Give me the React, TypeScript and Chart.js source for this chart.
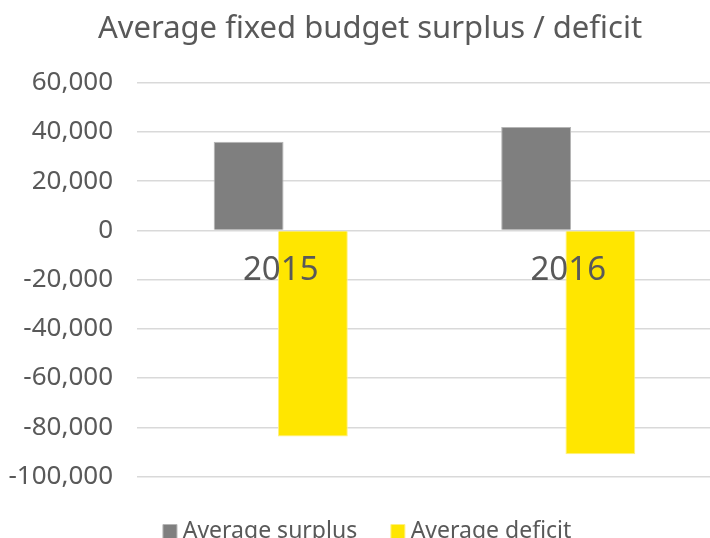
import React, { useEffect, useRef } from "react";
import { Chart, registerables } from "chart.js";

Chart.register(...registerables);

const categories = ["2015", "2016"];
const surplusValues = [36000, 42000];
const deficitValues = [-83700, -91000];
const yTicks = [60000, 40000, 20000, 0, -20000, -40000, -60000, -80000, -100000];

const FONT = "'Noto Sans', 'DejaVu Sans', sans-serif";
const TEXT = "#595959";

export default function App() {
  const ref = useRef<HTMLCanvasElement | null>(null);
  useEffect(() => {
    if (!ref.current) return;
    const chart = new Chart(ref.current, {
      type: "bar",
      data: {
        labels: categories,
        datasets: [
          {
            label: "Average surplus",
            data: surplusValues,
            backgroundColor: "#7f7f7f",
            borderColor: "#b5b5b5",
            borderWidth: 1,
            barPercentage: 1.087,
            categoryPercentage: 0.447,
          },
          {
            label: "Average deficit",
            data: deficitValues,
            backgroundColor: "#ffe600",
            borderColor: "#fff080",
            borderWidth: 1,
            barPercentage: 1.087,
            categoryPercentage: 0.447,
          },
        ],
      },
      options: {
        animation: false,
        responsive: true,
        maintainAspectRatio: false,
        layout: { padding: { left: 0, right: 0, top: 0, bottom: 0 } },
        plugins: {
          tooltip: { enabled: false },
          title: {
            display: true,
            text: "Average fixed budget surplus / deficit",
            color: TEXT,
            font: { family: FONT, size: 31, weight: "normal" },
            padding: { top: 11, bottom: 34.5 },
          },
          legend: {
            position: "bottom",
            title: {
              display: true,
              text: "",
              font: { family: FONT, size: 1 },
              padding: { top: 1.4, bottom: 1.4 },
            },
            labels: {
              color: TEXT,
              font: { family: FONT, size: 23 },
              usePointStyle: true,
              pointStyle: "rect",
              boxWidth: 2.5,
              boxHeight: 14,
              padding: 39.5,
            },
          },
        },
        scales: {
          x: {
            position: { y: 0 },
            afterFit: (scale: any) => {
              scale.height = 0;
            },
            grid: { display: false, drawTicks: false },
            border: { display: false },
            ticks: {
              z: 1,
              color: TEXT,
              font: { family: FONT, size: 33 },
              padding: 20,
            },
          },
          y: {
            min: -100000,
            max: 60000,
            afterBuildTicks: (scale: any) => {
              scale.ticks = yTicks.map((v) => ({ value: v }));
            },
            afterFit: (scale: any) => {
              scale.width = 137;
            },
            grid: { color: "#d9d9d9", lineWidth: 1.5, drawTicks: false },
            border: { display: false },
            ticks: {
              color: TEXT,
              font: { family: FONT, size: 26 },
              padding: 24,
              callback: (v: any) => Number(v).toLocaleString("en-US"),
            },
          },
          yRightSpace: {
            position: "right",
            display: true,
            grid: { display: false, drawTicks: false },
            border: { display: false },
            ticks: { display: false },
            afterFit: (scale: any) => {
              scale.width = 28;
            },
          },
        },
      },
    });
    return () => chart.destroy();
  }, []);
  return (
    <div style={{ position: "fixed", left: 0, top: 0, width: 740, height: 553, background: "#fff" }}>
      <canvas ref={ref} />
    </div>
  );
}
